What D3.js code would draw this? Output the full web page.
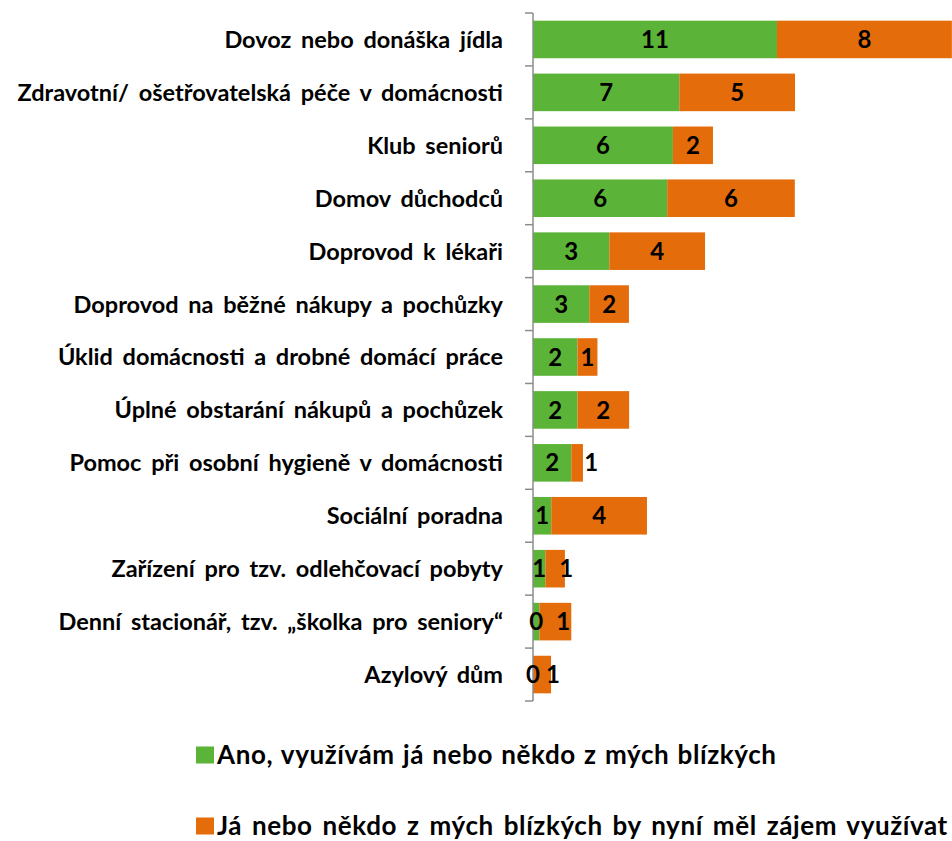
<!DOCTYPE html>
<html>
<head>
<meta charset="utf-8">
<script src="https://cdn.jsdelivr.net/npm/d3@7"></script>
<style>
  body { margin: 0; background: #fff; }
  text { font-family: Lato, "Open Sans", sans-serif; font-weight: bold; fill: #000; }
</style>
</head>
<body>
<div id="chart"></div>
<script>
// categories top to bottom
var categories = [
  "Dovoz nebo donáška jídla",
  "Zdravotní/ ošetřovatelská péče v domácnosti",
  "Klub seniorů",
  "Domov důchodců",
  "Doprovod k lékaři",
  "Doprovod na běžné nákupy a pochůzky",
  "Úklid domácnosti a drobné domácí práce",
  "Úplné obstarání nákupů a pochůzek",
  "Pomoc při osobní hygieně v domácnosti",
  "Sociální poradna",
  "Zařízení pro tzv. odlehčovací pobyty",
  "Denní stacionář, tzv. „školka pro seniory“",
  "Azylový dům"
]
// series (labels are rounded)
var useNow = [11.09, 6.65, 6.36, 6.10, 3.47, 2.56, 2.02, 2.02, 1.74, 0.83, 0.56, 0.29, 0.0]
var wantNow = [7.95, 5.26, 1.82, 5.80, 4.35, 1.80, 0.91, 2.35, 0.53, 4.35, 0.89, 1.45, 0.82]
var seriesNames = [
  "Ano, využívám já nebo někdo z mých blízkých",
  "Já nebo někdo z mých blízkých by nyní měl zájem využívat"
]
var colors = ["#5bb337", "#e46c0a"]

var width = 952, height = 841
// small label nudges for tiny orange segments (Excel moved them)
var nudge = { 8: 14, 10: 11, 11: 8, 12: 11 }

var svg = d3.select("#chart").append("svg")
  .attr("width", width).attr("height", height)

var x = d3.scaleLinear().domain([0, 19]).range([533, 951])
var y = d3.scaleBand().domain(categories).range([13, 701])
  .paddingInner(0.29).paddingOuter(0.145)

var rows = categories.map(function (c, i) {
  return { name: c, i: i, vals: [useNow[i], wantNow[i]] }
})

var barG = svg.append("g")
var axG = svg.append("g")
var labG = svg.append("g")
rows.forEach(function (r) {
  var x0 = 0
  r.vals.forEach(function (v, s) {
    var xa = x(x0), xb = x(x0 + v)
    barG.append("rect")
      .attr("x", xa).attr("y", y(r.name))
      .attr("width", Math.max(0, xb - xa)).attr("height", y.bandwidth())
      .attr("fill", colors[s])
    var lx = (xa + xb) / 2
    if (s == 1 && nudge[r.i]) lx += nudge[r.i]
    labG.append("text")
      .attr("x", lx).attr("y", y(r.name) + y.bandwidth() / 2)
      .attr("dy", "0.36em")
      .attr("text-anchor", "middle")
      .style("font-size", "24px")
      .text(d3.format(".0f")(v))
    x0 += v
  })
})

// category axis
var axis = d3.axisLeft(y).tickSize(0).tickPadding(30)
var ax = axG.append("g").attr("transform", "translate(533,0)").call(axis)
ax.select(".domain").remove()
ax.selectAll("text").style("font-size", "23.5px").style("word-spacing", "4px").attr("dy", "0.36em")
// boundary ticks + line
var bounds = categories.map(function (c) { return y(c) - y.step() * y.paddingInner() / 2 })
bounds.push(701)
axG.append("line").attr("x1", 533).attr("x2", 533).attr("y1", 13).attr("y2", 701)
  .attr("stroke", "#8c8c8c").attr("stroke-width", 1.5)
axG.selectAll(".btick").data(bounds).enter().append("line")
  .attr("x1", 525).attr("x2", 533)
  .attr("y1", function (d) { return d }).attr("y2", function (d) { return d })
  .attr("stroke", "#8c8c8c").attr("stroke-width", 1.5)

// legend
var legY = [755, 826]
seriesNames.forEach(function (n, i) {
  var lg = svg.append("g").attr("transform", "translate(196," + legY[i] + ")")
  lg.append("rect").attr("x", 0).attr("y", -8.5).attr("width", 18).attr("height", 17).attr("fill", colors[i])
  lg.append("text").attr("x", 21).attr("dy", "0.36em")
    .style("font-size", "26px").style("letter-spacing", "0.6px").style("word-spacing", i ? "3px" : "1.4px")
    .text(n)
})
</script>
</body>
</html>
